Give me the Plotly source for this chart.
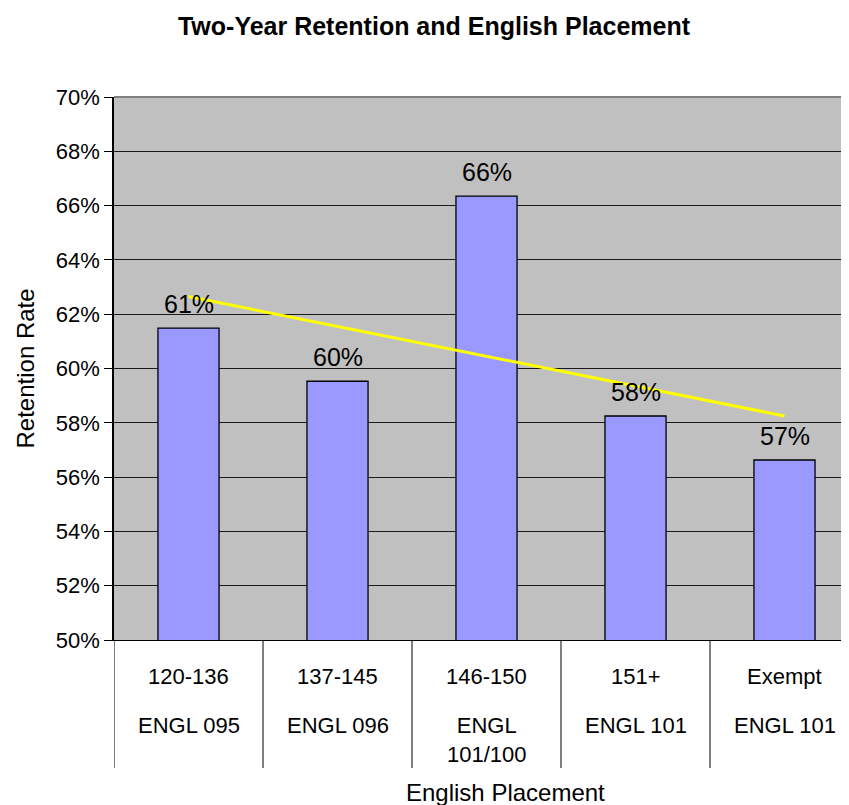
import numpy as np
import plotly.graph_objects as go

# ---- data ----
score_ranges = ["120-136", "137-145", "146-150", "151+", "Exempt"]
courses = ["ENGL 095", "ENGL 096", "ENGL<br>101/100", "ENGL 101", "ENGL 101"]
retention = [61.49, 59.53, 66.35, 58.25, 56.63]
y_tick_vals = [50, 52, 54, 56, 58, 60, 62, 64, 66, 68, 70]
y_tick_text = [f"{v}%" for v in y_tick_vals]

FONT = "Liberation Sans, Arial, sans-serif"
OFF = 8  # page body margin
W, H = 849 - OFF, 805 - OFF
L, R, T = 114 - OFF, 0, 97 - OFF
plot_h = 543
B = H - T - plot_h
bottom_px = T + plot_h  # figure px of the 50% line
xpos = list(range(len(score_ranges)))

fig = go.Figure()
fig.add_trace(go.Bar(
    x=xpos, y=retention, width=0.41,
    marker=dict(color="#9999FF", line=dict(color="#000000", width=1.3)),
    hoverinfo="skip", showlegend=False,
))

# linear trendline (least squares fit of the series)
coef = np.polyfit(xpos, retention, 1)
trend = np.polyval(coef, xpos)
fig.add_trace(go.Scatter(
    x=[xpos[0], xpos[-1]], y=[trend[0], trend[-1]], mode="lines",
    line=dict(color="#FFFF00", width=3), hoverinfo="skip", showlegend=False,
))

annotations = []
# data labels
for x, v in zip(xpos, retention):
    annotations.append(dict(x=x, y=v, xref="x", yref="y", text=f"{round(v)}%",
                            showarrow=False, yanchor="middle", yshift=24,
                            font=dict(family=FONT, size=25, color="#000")))
# category labels
for x, s, c in zip(xpos, score_ranges, courses):
    annotations.append(dict(x=x, y=0, xref="x", yref="paper", text=s, showarrow=False,
                            yanchor="middle", yshift=-36,
                            font=dict(family=FONT, size=22, color="#000")))
    annotations.append(dict(x=x, y=0, xref="x", yref="paper", text=c, showarrow=False,
                            yanchor="top", yshift=-71,
                            font=dict(family=FONT, size=22, color="#000")))

# axis titles
annotations.append(dict(x=(505 - OFF - L) / (W - L - R), y=-(792 - OFF - bottom_px) / plot_h,
                        xref="paper", yref="paper", text="English Placement",
                        showarrow=False, xanchor="center", yanchor="middle",
                        font=dict(family=FONT, size=24, color="#000")))
annotations.append(dict(x=-(L - (25 - OFF)) / (W - L - R), y=0.5, xref="paper", yref="paper",
                        text="Retention Rate", textangle=-90, showarrow=False,
                        xanchor="center", yanchor="middle",
                        font=dict(family=FONT, size=24, color="#000")))

shapes = []
for b in [-0.5, 0.5, 1.5, 2.5, 3.5]:
    shapes.append(dict(type="line", xref="x", yref="paper", x0=b, x1=b,
                       y0=0, y1=-(768 - OFF - bottom_px) / plot_h,
                       line=dict(color="#000000", width=1)))
# top border of plot
shapes.append(dict(type="line", xref="paper", yref="paper", x0=0, x1=1, y0=1, y1=1,
                   line=dict(color="#808080", width=2)))

cat_w = 149.0
x_hi = -0.5 + (W - L - R) / cat_w

fig.update_layout(
    width=W, height=H,
    margin=dict(l=L, r=R, t=T, b=B),
    paper_bgcolor="#FFFFFF", plot_bgcolor="#C0C0C0",
    title=dict(text="<b>Two-Year Retention and English Placement</b>",
               x=(434 - OFF) / W, xanchor="center", y=1 - (26 - OFF) / H, yanchor="middle",
               font=dict(family=FONT, size=25, color="#000")),
    xaxis=dict(range=[-0.5, x_hi], showticklabels=False, showgrid=False,
               zeroline=False, showline=True, linecolor="#000000", linewidth=1,
               ticks="", fixedrange=True),
    yaxis=dict(range=[50, 70], tickvals=y_tick_vals, ticktext=y_tick_text,
               showgrid=True, gridcolor="#1a1a1a", gridwidth=1, zeroline=False,
               showline=True, linecolor="#000000", linewidth=1.5,
               ticks="outside", ticklen=8, tickcolor="#000000",
               tickfont=dict(family=FONT, size=22, color="#000"), fixedrange=True),
    annotations=annotations, shapes=shapes,
)

fig.write_html("out.html")
